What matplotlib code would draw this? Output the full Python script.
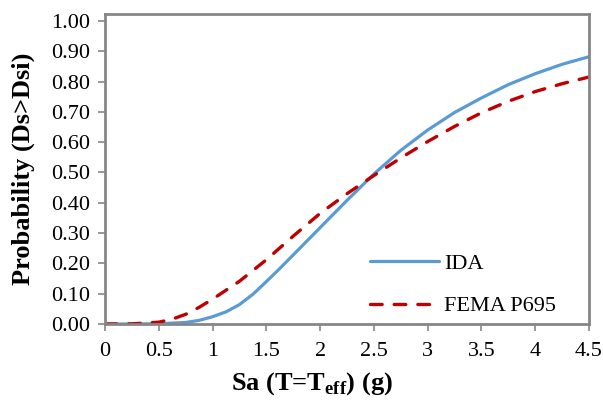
import matplotlib
matplotlib.use("Agg")
import matplotlib.pyplot as plt

# Sa values (g) and probabilities
sa_ida = [0, 0.25, 0.5, 0.75, 0.875, 1.0, 1.125, 1.25, 1.375, 1.5, 1.625, 1.75,
          2.0, 2.25, 2.5, 2.75, 3.0, 3.25, 3.5, 3.75, 4.0, 4.25, 4.5]
ida = [0, 0, 0.0008, 0.005, 0.012, 0.024, 0.040, 0.064, 0.098, 0.140, 0.183, 0.228,
       0.318, 0.408, 0.495, 0.573, 0.640, 0.698, 0.746, 0.790, 0.826, 0.857, 0.882]
sa_fema = [0, 0.25, 0.5, 0.625, 0.75, 0.875, 1.0, 1.25, 1.5, 1.75, 2.0,
           2.25, 2.5, 2.75, 3.0, 3.25, 3.5, 3.75, 4.0, 4.25, 4.5]
fema = [0, 0.0005, 0.006, 0.016, 0.032, 0.055, 0.082, 0.141, 0.212, 0.290, 0.365,
        0.430, 0.490, 0.548, 0.602, 0.652, 0.697, 0.735, 0.767, 0.793, 0.815]

xticks = [0, 0.5, 1, 1.5, 2, 2.5, 3, 3.5, 4, 4.5]
xticklabels = ["0", "0.5", "1", "1.5", "2", "2.5", "3", "3.5", "4", "4.5"]
yticks = [0, 0.1, 0.2, 0.3, 0.4, 0.5, 0.6, 0.7, 0.8, 0.9, 1.0]

plt.rcParams["font.family"] = ["Liberation Serif", "DejaVu Serif"]
plt.rcParams["mathtext.fontset"] = "custom"
plt.rcParams["mathtext.rm"] = "Liberation Serif"
plt.rcParams["mathtext.bf"] = "Liberation Serif:bold"

fig = plt.figure(figsize=(6.03, 4.03), dpi=100)
ax = fig.add_axes([105 / 603, 1 - 324 / 403, 484 / 603, 310 / 403])

ax.plot(sa_ida, ida, color="#5B9BD5", lw=2.3, label="IDA", solid_capstyle="round")
ax.plot(sa_fema, fema, color="#C00000", lw=2.4, label="FEMA P695",
        dashes=(3.5, 3.6), dash_capstyle="round")

ax.set_xlim(0, 4.5)
ax.set_ylim(0, 1.023)
ax.set_xticks(xticks)
ax.set_xticklabels(xticklabels)
ax.set_yticks(yticks)
ax.set_yticklabels(["%.2f" % v for v in yticks])

for s in ax.spines.values():
    s.set_color("#868686")
    s.set_linewidth(2.0)
ax.tick_params(axis="both", colors="#868686", length=5, width=1.2,
               labelsize=16, labelcolor="black")
ax.tick_params(axis="y", pad=6)
ax.tick_params(axis="x", pad=8)

ax.set_xlabel(r"Sa (T=T$_{\mathbf{eff}}$) (g)", fontsize=19, fontweight="bold")
ax.set_ylabel("Probability (Ds>Dsi)", fontsize=19, fontweight="bold")
ax.xaxis.set_label_coords(0.428, -0.15)
ax.yaxis.set_label_coords(-0.145, 0.5)

ax.legend(loc="upper left", bbox_to_anchor=(350 / 603, 1 - 233 / 403),
          bbox_transform=fig.transFigure, frameon=False, fontsize=16,
          handlelength=3.1, handletextpad=0.25, labelspacing=1.0)

fig.savefig("out.png", dpi=100)
